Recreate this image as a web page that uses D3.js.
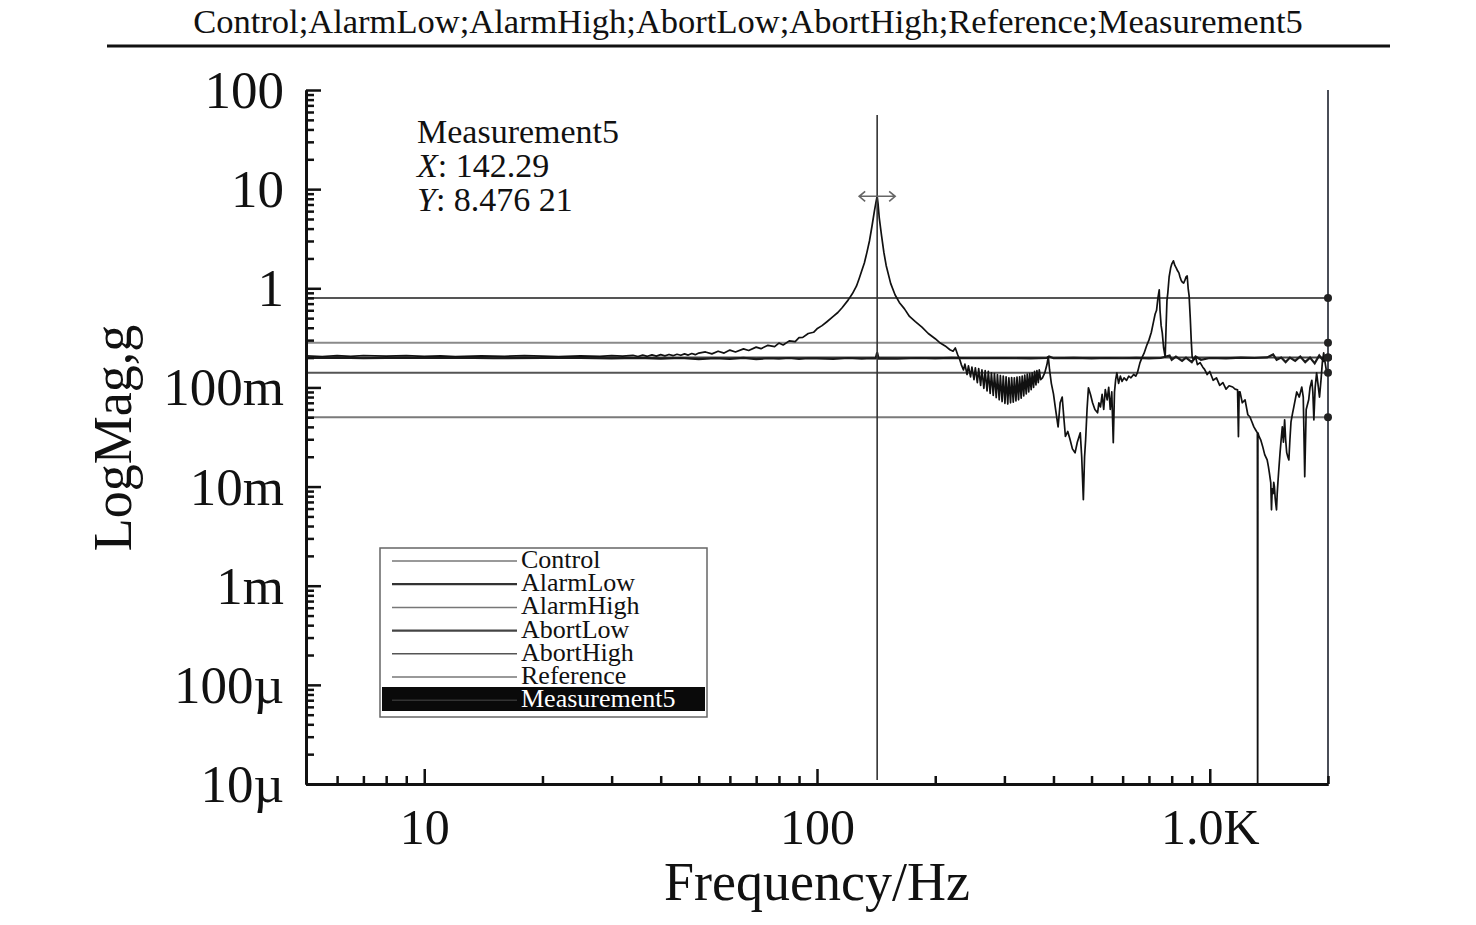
<!DOCTYPE html>
<html>
<head>
<meta charset="utf-8">
<script src="https://cdn.jsdelivr.net/npm/d3@7"></script>
<style>
  body { margin: 0; background: #fff; }
  svg text { font-family: "Liberation Serif", "Times New Roman", serif; fill: #111; }
</style>
</head>
<body>
<svg id="chart"></svg>
<script>
// legend / series names
var seriesNames = ["Control", "AlarmLow", "AlarmHigh", "AbortLow", "AbortHigh", "Reference", "Measurement5"];

// straight limit lines (g)
var limitNames  = ["AbortHigh", "AlarmHigh", "Reference", "AlarmLow", "AbortLow"];
var limitValues = [0.8, 0.283, 0.2, 0.141, 0.05];
var limitColors = ["#555", "#8a8a8a", "#444", "#555", "#7a7a7a"];

// axis ticks
var xTickValues = [10, 100, 1000];
var xTickLabels = ["10", "100", "1.0K"];
var yTickValues = [100, 10, 1, 0.1, 0.01, 0.001, 0.0001, 0.00001];
var yTickLabels = ["100", "10", "1", "100m", "10m", "1m", "100\u00b5", "10\u00b5"];

// cursor read-out
var cursorX = 142.29;
var cursorY = 8.47621;

// control trace (Hz, g)
var controlFreq = [5, 6, 7, 8, 10, 12, 15, 20, 25, 30, 35, 40, 45, 50, 55, 60, 65, 70, 75, 80, 85, 90, 95, 100, 110, 120, 130, 138, 141, 142.3, 143.5, 146, 160, 180, 200, 220, 250, 300, 350, 385, 390, 400, 450, 500, 550, 600, 650, 700, 750, 790, 800, 820, 850, 870, 900, 920, 950, 1000, 1100, 1200, 1300, 1400, 1450, 1480, 1520, 1560, 1600, 1650, 1700, 1750, 1800, 1850, 1900, 1950, 2000];
var controlVal  = [0.198, 0.2, 0.197, 0.199, 0.198, 0.2, 0.197, 0.199, 0.198, 0.196, 0.199, 0.195, 0.198, 0.193, 0.197, 0.194, 0.199, 0.193, 0.197, 0.195, 0.198, 0.194, 0.197, 0.196, 0.194, 0.198, 0.195, 0.197, 0.196, 0.225, 0.195, 0.196, 0.195, 0.198, 0.196, 0.199, 0.197, 0.198, 0.196, 0.198, 0.205, 0.197, 0.199, 0.196, 0.198, 0.197, 0.199, 0.196, 0.198, 0.21, 0.19, 0.205, 0.185, 0.2, 0.18, 0.205, 0.19, 0.198, 0.196, 0.2, 0.198, 0.201, 0.215, 0.19, 0.2, 0.18, 0.2, 0.185, 0.205, 0.18, 0.2, 0.175, 0.21, 0.185, 0.2];

// measurement5 trace (Hz, g)
var measFreq = [5, 5.5, 6, 6.5, 7, 8, 9, 10, 11, 12, 14, 16, 18, 20, 22, 25, 28, 30, 32, 34, 35, 36, 37, 38, 39, 40, 41, 42, 43, 44, 45, 46, 47, 48, 49, 50, 52, 54, 56, 58, 60, 62, 65, 67, 70, 72, 75, 78, 80, 82, 85, 88, 90, 92, 95, 98, 100, 103, 106, 110, 113, 116, 120, 123, 126, 128, 130, 132, 134, 136, 138, 140, 141.5, 142.29, 143, 144, 146, 148, 150, 154, 158, 162, 167, 172, 178, 185, 192, 200, 206, 212, 218, 222, 225, 228, 231,
  233, 236, 238, 241, 243, 246, 248, 251, 253, 256, 258, 261, 263, 266, 268, 271, 273, 276, 278, 281, 283, 286, 288, 291, 293, 296, 298, 301, 303, 306, 308, 311, 313, 316, 318, 321, 323, 326, 328, 331, 333, 336, 338, 341, 343, 346, 348, 351, 353, 356, 358, 361, 363, 366, 368, 371,
  375, 380, 385, 388, 391, 395, 400, 405, 411, 416, 421, 425, 429, 435, 441, 447, 454, 460, 468, 472, 476.6, 480, 483, 487, 491, 497, 503, 510, 518, 522, 527, 532, 537, 542, 548, 553, 558, 563, 568, 572, 576, 580, 586, 592, 598, 605, 614, 622, 630, 640, 648, 654, 664, 672, 680, 692, 700, 710, 719, 726, 732, 738, 743.6, 747, 752, 757, 763, 770, 774, 778, 782, 788, 795, 800, 808, 815, 822, 828, 834.5, 840, 846, 852, 858, 864, 870, 876, 881, 886, 892, 897, 902, 910, 921, 930, 945, 960, 970, 985, 1000, 1020, 1040, 1060, 1080, 1100, 1120, 1144, 1160, 1177, 1183, 1188, 1194, 1210, 1230, 1250, 1265, 1280, 1295, 1310, 1322, 1324, 1326, 1335, 1348, 1365, 1380, 1400, 1410, 1418, 1425, 1430, 1436, 1442, 1450, 1455, 1461, 1468, 1474, 1479, 1485, 1491, 1497, 1510, 1520, 1530, 1540, 1551, 1560, 1570, 1580, 1590, 1600, 1610, 1625, 1637, 1650, 1665, 1690, 1715, 1730, 1745, 1760, 1786, 1800, 1819, 1830, 1841, 1855, 1871, 1885, 1903, 1920, 1935, 1950, 1970, 1985, 2000];
var measVal = [0.208, 0.205, 0.209, 0.206, 0.21, 0.207, 0.209, 0.206, 0.208, 0.205, 0.208, 0.206, 0.209, 0.207, 0.205, 0.208, 0.206, 0.209, 0.207, 0.211, 0.205, 0.212, 0.206, 0.213, 0.207, 0.214, 0.208, 0.215, 0.209, 0.216, 0.211, 0.218, 0.212, 0.22, 0.214, 0.222, 0.228, 0.218, 0.232, 0.222, 0.238, 0.228, 0.245, 0.236, 0.255, 0.246, 0.266, 0.258, 0.28, 0.268, 0.295, 0.29, 0.318, 0.32, 0.35, 0.36, 0.39, 0.42, 0.46, 0.52, 0.57, 0.64, 0.76, 0.88, 1.05, 1.25, 1.5, 1.8, 2.3, 3.0, 4.2, 6.0, 7.6, 8.47621, 7.2, 5.2, 3.4, 2.3, 1.7, 1.12, 0.86, 0.72, 0.62, 0.52, 0.46, 0.405, 0.35, 0.31, 0.28, 0.262, 0.24, 0.232, 0.25, 0.215, 0.19,
  0.17, 0.15, 0.172, 0.135, 0.165, 0.128, 0.16, 0.12, 0.158, 0.112, 0.155, 0.105, 0.15, 0.098, 0.148, 0.092, 0.145, 0.087, 0.14, 0.083, 0.138, 0.079, 0.135, 0.075, 0.132, 0.072, 0.13, 0.069, 0.128, 0.068, 0.125, 0.07, 0.126, 0.071, 0.125, 0.073, 0.127, 0.075, 0.128, 0.078, 0.13, 0.082, 0.133, 0.086, 0.136, 0.09, 0.138, 0.095, 0.14, 0.1, 0.145, 0.106, 0.148, 0.112, 0.15, 0.12,
  0.125, 0.14, 0.17, 0.205, 0.15, 0.11, 0.086, 0.06, 0.04, 0.07, 0.08, 0.05, 0.032, 0.036, 0.0296, 0.024, 0.0219, 0.028, 0.0348, 0.02, 0.00736, 0.02, 0.0296, 0.06, 0.099, 0.085, 0.07, 0.06, 0.0555, 0.07, 0.0637, 0.085, 0.06, 0.095, 0.075, 0.1, 0.06, 0.09, 0.0277, 0.09, 0.12, 0.14, 0.11, 0.13, 0.115, 0.125, 0.118, 0.13, 0.125, 0.135, 0.13, 0.14, 0.177, 0.2, 0.22, 0.269, 0.3, 0.36, 0.458, 0.55, 0.6, 0.8, 0.963, 0.6, 0.42, 0.355, 0.25, 0.203, 0.4, 0.75, 0.899, 1.3, 1.6, 1.75, 1.89, 1.7, 1.6, 1.5, 1.43, 1.3, 1.2, 1.15, 1.13, 1.2, 1.3, 1.33, 1.0, 0.838, 0.5, 0.3, 0.203, 0.19, 0.2, 0.17, 0.178, 0.16, 0.152, 0.135, 0.145, 0.118, 0.125, 0.105, 0.112, 0.096, 0.104, 0.101, 0.096, 0.0946, 0.0318, 0.09, 0.09, 0.07, 0.075, 0.053, 0.0506, 0.045, 0.04, 0.037, 0.0348, 0.000001, 0.0348, 0.032, 0.0296, 0.025, 0.021, 0.0186, 0.016, 0.0138, 0.012, 0.0109, 0.00583, 0.0095, 0.0085, 0.011, 0.0099, 0.0075, 0.0065, 0.00583, 0.0085, 0.011, 0.0138, 0.022, 0.03, 0.04, 0.028, 0.0471, 0.03, 0.022, 0.02, 0.0186, 0.03, 0.045, 0.055, 0.0637, 0.075, 0.09, 0.08, 0.101, 0.08, 0.0126, 0.06, 0.075, 0.1, 0.118, 0.09, 0.0471, 0.1, 0.14, 0.11, 0.08, 0.12, 0.18, 0.223, 0.17, 0.14, 0.15];

var W = 1476, H = 925;
var svg = d3.select("svg#chart").attr("width", W).attr("height", H);

var x = d3.scaleLog().domain([5, 2000]).range([306, 1328]);
var y = d3.scaleLog().domain([1e-5, 100]).range([784, 90]);

// title + rule
svg.append("text")
    .attr("x", 748).attr("y", 33)
    .attr("text-anchor", "middle")
    .style("font-size", "34.5px")
    .text(seriesNames.join(";"));
svg.append("line")
    .attr("x1", 107).attr("x2", 1390).attr("y1", 46).attr("y2", 46)
    .attr("stroke", "#111").attr("stroke-width", 3);

svg.append("clipPath").attr("id", "plotclip")
  .append("rect")
    .attr("x", x.range()[0]).attr("y", y.range()[1])
    .attr("width", x.range()[1] - x.range()[0])
    .attr("height", y.range()[0] - y.range()[1]);

var plot = svg.append("g").attr("clip-path", "url(#plotclip)");

// limit lines
plot.selectAll("line.limit")
    .data(limitValues)
    .enter().append("line")
    .attr("class", "limit")
    .attr("x1", x.range()[0]).attr("x2", x.range()[1])
    .attr("y1", function(d) { return y(d); })
    .attr("y2", function(d) { return y(d); })
    .attr("stroke", function(d, i) { return limitColors[i]; })
    .attr("stroke-width", 2);

var line = d3.line()
    .x(function(d) { return x(d.f); })
    .y(function(d) { return y(d.v); });

var control = controlFreq.map(function(f, i) { return { f: f, v: controlVal[i] }; });
var meas = measFreq.map(function(f, i) { return { f: f, v: measVal[i] }; });

plot.append("path")
    .datum(control)
    .attr("d", line)
    .attr("fill", "none")
    .attr("stroke", "#1a1a1a")
    .attr("stroke-width", 2.2);

plot.append("path")
    .datum(meas)
    .attr("d", line)
    .attr("fill", "none")
    .attr("stroke", "#111")
    .attr("stroke-width", 1.7)
    .attr("stroke-linejoin", "round");

// cursor line
svg.append("line")
    .attr("x1", x(cursorX)).attr("x2", x(cursorX))
    .attr("y1", 115).attr("y2", y.range()[0] - 4)
    .attr("stroke", "#333").attr("stroke-width", 1.6);

// right edge line
svg.append("line")
    .attr("x1", x.range()[1]).attr("x2", x.range()[1])
    .attr("y1", y.range()[1]).attr("y2", y.range()[0])
    .attr("stroke", "#4a4e57").attr("stroke-width", 2);

// end dots on right edge
var dotVals = limitValues.concat([controlVal[controlVal.length - 1]]);
svg.selectAll("circle.enddot")
    .data(dotVals)
    .enter().append("circle")
    .attr("class", "enddot")
    .attr("cx", x.range()[1])
    .attr("cy", function(d) { return y(d); })
    .attr("r", 4)
    .attr("fill", "#222");

// double arrow at peak
var ax = x(cursorX), ay = y(cursorY);
svg.append("path")
    .attr("d", "M" + (ax - 18) + "," + ay + "H" + (ax + 18) +
               "M" + (ax - 12) + "," + (ay - 5) + "L" + (ax - 18) + "," + ay + "L" + (ax - 12) + "," + (ay + 5) +
               "M" + (ax + 12) + "," + (ay - 5) + "L" + (ax + 18) + "," + ay + "L" + (ax + 12) + "," + (ay + 5))
    .attr("fill", "none").attr("stroke", "#666").attr("stroke-width", 1.6);

// axes: minor and major ticks in separate groups
var yMinor = y.ticks().filter(function(d) { return yTickValues.indexOf(d) < 0; });
var xMinor = x.ticks().filter(function(d) { return xTickValues.indexOf(d) < 0; });

svg.append("g")
    .attr("transform", "translate(" + x.range()[0] + ",0)")
    .call(d3.axisLeft(y).tickValues(yMinor).tickSize(-8).tickSizeOuter(0).tickFormat(""));
var gy = svg.append("g")
    .attr("transform", "translate(" + x.range()[0] + ",0)")
    .call(d3.axisLeft(y).tickValues(yTickValues).tickSize(-15).tickSizeOuter(0).tickPadding(22)
        .tickFormat(function(d, i) { return yTickLabels[i]; }));
gy.selectAll("text").style("font-size", "53px").attr("dy", "0.33em");

svg.append("g")
    .attr("transform", "translate(0," + y.range()[0] + ")")
    .call(d3.axisBottom(x).tickValues(xMinor).tickSize(-8).tickSizeOuter(0).tickFormat(""));
var gx = svg.append("g")
    .attr("transform", "translate(0," + y.range()[0] + ")")
    .call(d3.axisBottom(x).tickValues(xTickValues).tickSize(-15).tickSizeOuter(0).tickPadding(24)
        .tickFormat(function(d, i) { return xTickLabels[i]; }));
gx.selectAll("text").style("font-size", "50px").attr("dy", "0.71em");

svg.selectAll(".domain").attr("stroke", "#111").attr("stroke-width", 3);
svg.selectAll(".tick line").attr("stroke", "#111").attr("stroke-width", 2.5);
svg.selectAll(".tick text").attr("fill", "#111");

// axis titles
svg.append("text")
    .attr("transform", "translate(131,438) rotate(-90)")
    .attr("text-anchor", "middle")
    .style("font-size", "54px")
    .text("LogMag,g");
svg.append("text")
    .attr("x", 817).attr("y", 900)
    .attr("text-anchor", "middle")
    .style("font-size", "54px")
    .text("Frequency/Hz");

// cursor annotation
var ann = svg.append("text").attr("x", 417).style("font-size", "34px");
ann.append("tspan").attr("x", 417).attr("y", 143).text("Measurement5");
var t2 = ann.append("tspan").attr("x", 417).attr("y", 177);
t2.append("tspan").style("font-style", "italic").text("X");
t2.append("tspan").text(": " + cursorX);
var t3 = ann.append("tspan").attr("x", 417).attr("y", 211);
t3.append("tspan").style("font-style", "italic").text("Y");
t3.append("tspan").text(": 8.476 21");

// legend
var legend = svg.append("g").attr("transform", "translate(380,548)");
legend.append("rect")
    .attr("width", 327).attr("height", 169)
    .attr("fill", "#fff").attr("stroke", "#666").attr("stroke-width", 1.5);
legend.append("rect")
    .attr("x", 2).attr("y", 139).attr("width", 323).attr("height", 24)
    .attr("fill", "#0a0a0a");
var legendColors = ["#777", "#333", "#777", "#444", "#555", "#777", "#333"];
var rows = legend.selectAll("g.row")
    .data(seriesNames)
    .enter().append("g")
    .attr("class", "row")
    .attr("transform", function(d, i) { return "translate(0," + (20 + i * 23.2) + ")"; });
rows.append("line")
    .attr("x1", 12).attr("x2", 137).attr("y1", -7).attr("y2", -7)
    .attr("stroke", function(d, i) { return legendColors[i]; })
    .attr("stroke-width", function(d, i) { return i === 1 || i === 3 ? 2.2 : 1.5; });
rows.append("text")
    .attr("x", 141)
    .style("font-size", "26px")
    .style("fill", function(d, i) { return i === 6 ? "#fff" : "#111"; })
    .text(function(d) { return d; });
</script>
</body>
</html>
